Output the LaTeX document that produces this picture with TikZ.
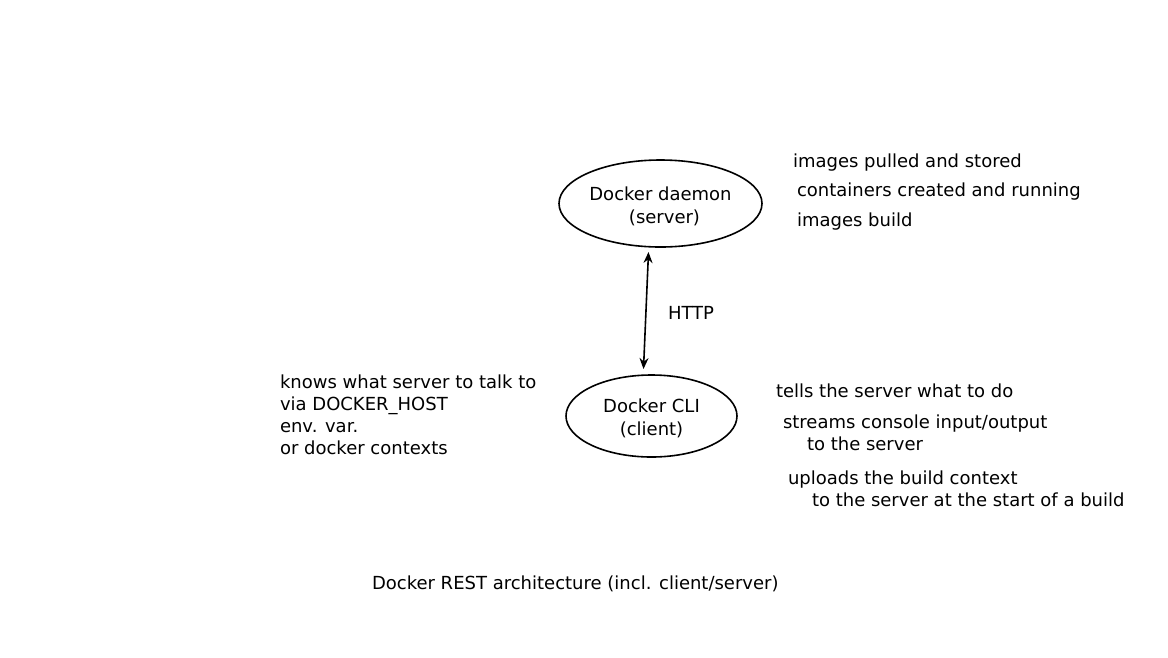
\documentclass[tikz,border=0pt]{standalone}
\usepackage{fontspec}
\setmainfont{DejaVu Sans}
\usetikzlibrary{shapes.geometric,arrows.meta}
\begin{document}
\begin{tikzpicture}[x=1pt,y=-1pt,
  every node/.style={font=\fontsize{18}{22}\selectfont, inner sep=0pt, outer sep=0pt},
  oval/.style={ellipse, draw, line width=1.6pt, align=center, font=\fontsize{18}{23}\selectfont},
  txt/.style={anchor=base west, align=left},
  link/.style={line width=1.6pt, {Stealth[length=11pt,width=9pt]}-{Stealth[length=11pt,width=9pt]}}]
\useasboundingbox (0,0) rectangle (1168,657);
\node[oval, minimum width=203pt, minimum height=87pt] (daemon) at (660.5,203.5) {\rule{0pt}{20pt}Docker daemon\\\hspace*{8pt}(server)};
\node[oval, minimum width=171pt, minimum height=82pt] (cli) at (651.5,416) {\rule{0pt}{19pt}Docker CLI\\(client)};
\draw[link] ([xshift=-12pt,yshift=-5pt]daemon.south) -- ([xshift=-8pt,yshift=6pt]cli.north);
\node[txt] (http) at (668,319) {HTTP};
\node[txt] (s1) at (793,167) {images pulled and stored};
\node[txt] (s2) at (797,196) {containers created and running};
\node[txt] (s3) at (797,226) {images build};
\node[txt] (left) at (280,454) {knows what server to talk to\\via DOCKER\_HOST\\env. var.\\or docker contexts};
\node[txt] (c1) at (776,397) {tells the server what to do};
\node[txt] (c2) at (783,450) {streams console input/output\\\hspace*{24pt}to the server};
\node[txt] (c3) at (788,506) {uploads the build context\\\hspace*{24pt}to the server at the start of a build};
\node[txt] (cap) at (372,589) {Docker REST architecture (incl. client/server)};
\end{tikzpicture}
\end{document}
